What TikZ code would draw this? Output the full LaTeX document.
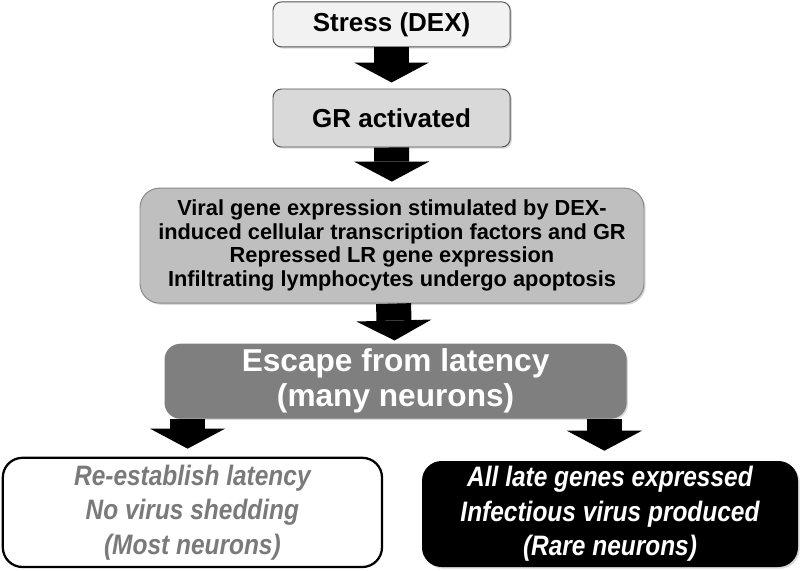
\documentclass[tikz,border=0pt]{standalone}
\usepackage{fontspec}
\setmainfont{Liberation Sans}
\newfontfamily\narrowsans[FakeStretch=0.87]{Liberation Sans}
\usetikzlibrary{arrows.meta,shadows}
\definecolor{boxline}{HTML}{555555}
\definecolor{stressfill}{HTML}{F2F2F2}
\definecolor{grfill}{HTML}{D9D9D9}
\definecolor{midfill}{HTML}{BFBFBF}
\definecolor{escfill}{HTML}{7F7F7F}
\definecolor{latgray}{HTML}{7A7A7A}

\begin{document}
\begin{tikzpicture}[every node/.style={align=center, font=\bfseries},
  box/.style={draw=boxline, line width=0.7pt, rounded corners=6pt,
    drop shadow={shadow xshift=1.2pt, shadow yshift=-1.2pt, opacity=0.3}},
  bigarrow/.style={line width=0.875cm,
    -{Triangle[width=1.875cm, length=0.5cm, line width=0pt]}}]
  \useasboundingbox (0,0) rectangle (20,14.25);

  % Stress
  \node[box, fill=stressfill, minimum width=5.93cm, minimum height=1.125cm,
    font=\fontsize{18.5}{20}\selectfont\bfseries] (stress) at (9.79,13.64) {Stress (DEX)};

  % GR
  \node[box, fill=grfill, minimum width=5.93cm, minimum height=1.45cm,
    font=\fontsize{18.5}{20}\selectfont\bfseries] (gr) at (9.79,11.3) {GR activated};

  % Viral genes
  \node[box, draw=boxline!70, fill=midfill, rounded corners=14pt, minimum width=12.6cm,
    minimum height=2.875cm, font=\fontsize{15.5}{16.8}\selectfont\bfseries] (viral) at (9.8,8.11)
    {Viral gene expression stimulated by DEX-\\induced cellular transcription factors and GR\\
     Repressed LR gene expression\\Infiltrating lymphocytes undergo apoptosis};

  % Escape
  \node[box, draw=escfill, fill=escfill, text=white, rounded corners=11pt, minimum width=11.53cm,
    minimum height=1.85cm, font=\fontsize{22.5}{25}\selectfont\bfseries] (escape) at (9.89,4.72)
    {Escape from latency\\(many neurons)};

  % Latency
  \node[draw=black, line width=1.6pt, fill=white, text=latgray, rounded corners=14pt,
    minimum width=9.48cm, minimum height=2.73cm,
    font=\fontsize{20}{24.5}\selectfont\narrowsans\bfseries\itshape] (latency) at (4.81,1.44)
    {Re-establish latency\\No virus shedding\\(Most neurons)};

  % Rare neurons
  \node[fill=black, text=white, rounded corners=14pt,
    drop shadow={shadow xshift=1.2pt, shadow yshift=-1.2pt, opacity=0.3},
    minimum width=9.4cm, minimum height=2.65cm,
    font=\fontsize{20}{24.5}\selectfont\narrowsans\bfseries\itshape] (rare) at (15.25,1.4)
    {All late genes expressed\\Infectious virus produced\\(Rare neurons)};

  % Arrows
  \draw[bigarrow, shorten >=0.15cm] (stress) -- (gr);
  \draw[bigarrow, shorten >=0.15cm] (gr) -- (viral);
  \draw[bigarrow, shorten >=0.08cm] (viral) -- (escape);
  \draw[bigarrow, shorten >=0.2cm] (escape.south -| latency.north) ++(-0.12,0) coordinate (escl)
    (escl) -- (escl |- latency.north);
  \draw[bigarrow, shorten >=0.25cm] (escape.south -| rare.north) ++(-0.14,0) coordinate (escr)
    (escr) -- (escr |- rare.north);
\end{tikzpicture}
\end{document}
